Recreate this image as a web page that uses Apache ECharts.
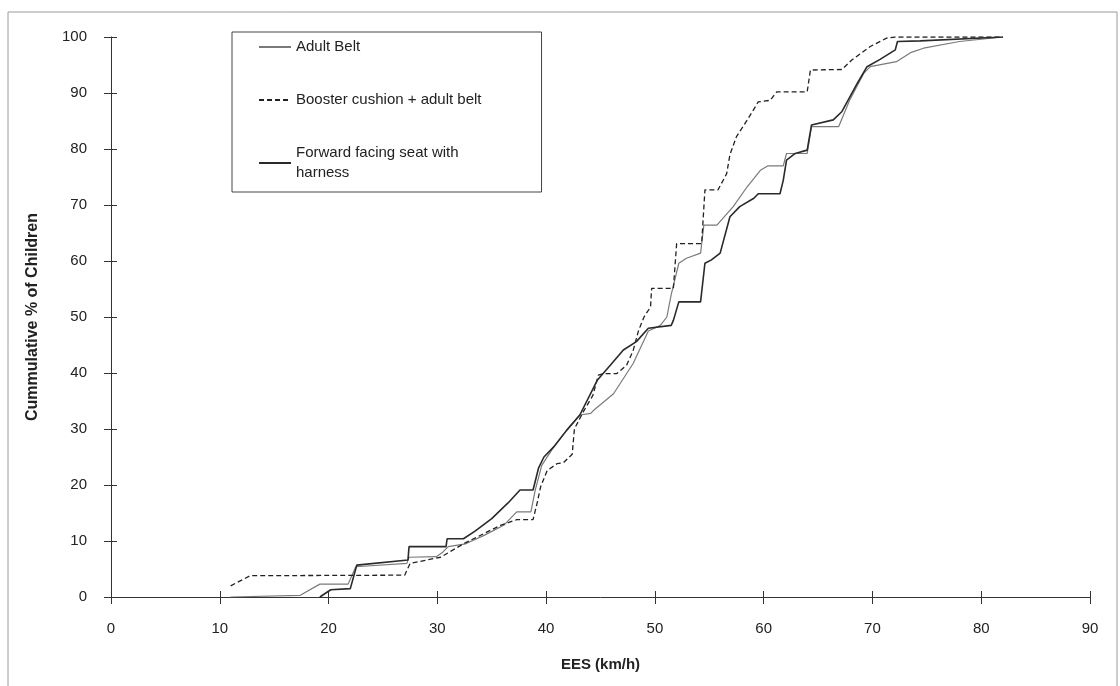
<!DOCTYPE html>
<html>
<head>
<meta charset="utf-8">
<script src="https://cdn.jsdelivr.net/npm/echarts@6/dist/echarts.min.js"></script>
<style>
  html, body { margin: 0; padding: 0; background: #fff; }
  #chart { width: 1120px; height: 686px; }
</style>
</head>
<body>
<div id="chart"></div>
<script>
// Adult Belt
var adultBeltEes = [11, 17.4, 19.2, 21.8, 22.5, 27.2, 27.4, 29.9, 30.5, 31.0, 32.6, 34.3, 36.1, 37.3, 38.6, 39.0, 39.6, 40.7, 41.9, 43.1, 44.1, 44.4, 46.2, 48.0, 49.4, 50.5, 51.1, 51.5, 52.2, 52.9, 54.2, 54.5, 55.7, 57.2, 58.5, 59.7, 60.4, 61.8, 62.1, 64.0, 64.4, 66.9, 67.9, 69.2, 69.8, 72.2, 73.5, 74.7, 78, 82];
var adultBeltPct = [0, 0.3, 2.3, 2.3, 5.4, 6.0, 7.1, 7.2, 8.0, 9.0, 9.5, 11.0, 12.8, 15.2, 15.2, 19.1, 23.5, 26.8, 29.8, 32.5, 32.8, 33.4, 36.3, 41.7, 47.5, 48.5, 50.0, 54, 59.6, 60.5, 61.4, 66.4, 66.4, 69.7, 73.3, 76.2, 77.0, 77.0, 79.2, 79.2, 84.0, 84.0, 88.7, 93.5, 94.7, 95.6, 97.2, 98.0, 99.2, 100];

// Booster cushion + adult belt
var boosterEes = [11, 12.8, 27.0, 27.5, 30.3, 32.4, 35.8, 37.3, 38.8, 39.2, 39.5, 40.1, 41.0, 41.6, 42.4, 42.6, 43.4, 44.3, 44.8, 45.3, 46.5, 47.4, 48.0, 48.5, 49.0, 49.6, 49.7, 51.7, 52.0, 54.3, 54.6, 55.8, 56.6, 56.9, 57.5, 58.5, 59.5, 60.6, 61.2, 64.0, 64.3, 67.2, 68.1, 69.8, 71.3, 72.1, 82];
var boosterPct = [2.0, 3.8, 3.9, 6.0, 7.1, 9.5, 12.8, 13.8, 13.8, 17.0, 19.7, 22.6, 23.8, 24.0, 25.5, 30.0, 33.0, 36.0, 39.6, 39.9, 39.9, 41.4, 44.0, 47.6, 50.0, 51.8, 55.1, 55.1, 63.1, 63.1, 72.7, 72.7, 75.6, 79.0, 82.2, 85.2, 88.4, 88.7, 90.2, 90.2, 94.1, 94.2, 95.9, 98.3, 99.8, 100, 100];

// Forward facing seat with harness
var forwardEes = [19.2, 20.2, 22.0, 22.6, 27.3, 27.4, 30.8, 30.9, 32.4, 33.5, 35.0, 36.5, 37.6, 38.8, 39.3, 39.8, 40.7, 41.9, 43.1, 44.7, 45.9, 47.1, 48.3, 49.4, 51.5, 51.7, 52.2, 54.2, 54.6, 55.2, 56.0, 56.9, 57.8, 59.1, 59.5, 61.5, 61.8, 62.1, 62.9, 64.0, 64.4, 66.4, 67.2, 68.6, 69.5, 70.7, 72.1, 72.3, 74.4, 82];
var forwardPct = [0, 1.3, 1.5, 5.7, 6.6, 9.0, 9.0, 10.4, 10.4, 11.8, 14.0, 16.8, 19.1, 19.1, 23.0, 25.0, 26.8, 29.8, 32.5, 38.7, 41.4, 44.1, 45.6, 48.0, 48.5, 49.4, 52.7, 52.7, 59.6, 60.2, 61.4, 67.9, 69.7, 71.2, 72.0, 72.0, 74.4, 78.0, 79.2, 79.8, 84.3, 85.2, 86.7, 91.7, 94.7, 96.0, 97.7, 99.2, 99.3, 100];

var seriesNames = ['Adult Belt', 'Booster cushion + adult belt', 'Forward facing seat with\nharness'];

function pairs(xs, ys) {
  var out = [];
  for (var i = 0; i < xs.length; i++) out.push([xs[i], ys[i]]);
  return out;
}

var font = 'Liberation Sans, Arial, sans-serif';
var chart = echarts.init(document.getElementById('chart'));

var xCommon = { type: 'value', min: 0, max: 90, interval: 10, gridIndex: 0 };
var yCommon = { type: 'value', min: 0, max: 100, interval: 10, gridIndex: 0 };

chart.setOption({
  animation: false,
  backgroundColor: '#fff',
  textStyle: { fontFamily: font },
  grid: { left: 111, right: 30, top: 37, bottom: 89 },
  graphic: [{
    type: 'rect',
    shape: { x: 8, y: 12, width: 1109, height: 700 },
    style: { fill: null, stroke: '#9a9a9a', lineWidth: 1 },
    silent: true
  }],
  legend: {
    left: 232,
    top: 32,
    orient: 'vertical',
    align: 'left',
    width: 306,
    itemWidth: 32,
    itemHeight: 12,
    itemGap: 33,
    padding: [5, 60, 9, 26],
    borderColor: '#444',
    borderWidth: 1,
    backgroundColor: '#fff',
    itemStyle: { opacity: 0 },
    textStyle: { fontFamily: font, fontSize: 15, color: '#222', lineHeight: 20 },
    data: seriesNames
  },
  xAxis: [
    Object.assign({}, xCommon, {
      name: 'EES (km/h)',
      nameLocation: 'middle',
      nameGap: 60,
      nameTextStyle: { fontFamily: font, fontSize: 15, fontWeight: 'bold', color: '#222' },
      axisLine: { onZero: false, lineStyle: { color: '#333', width: 1 } },
      axisTick: { show: true, length: 7, lineStyle: { color: '#333' } },
      axisLabel: { margin: 24, fontSize: 15, color: '#222', fontFamily: font },
      splitLine: { show: false }
    }),
    Object.assign({}, xCommon, {
      position: 'bottom',
      axisLine: { show: false },
      axisTick: { show: true, inside: true, length: 6, lineStyle: { color: '#333' } },
      axisLabel: { show: false },
      splitLine: { show: false }
    })
  ],
  yAxis: [
    Object.assign({}, yCommon, {
      name: 'Cummulative % of Children',
      nameLocation: 'middle',
      nameGap: 70,
      nameTextStyle: { fontFamily: font, fontSize: 16, fontWeight: 'bold', color: '#222' },
      axisLine: { show: true, onZero: false, lineStyle: { color: '#333', width: 1 } },
      axisTick: { show: true, length: 7, lineStyle: { color: '#333' } },
      axisLabel: { margin: 24, fontSize: 15, color: '#222', fontFamily: font },
      splitLine: { show: false }
    }),
    Object.assign({}, yCommon, {
      position: 'left',
      axisLine: { show: false },
      axisTick: { show: true, inside: true, length: 6, lineStyle: { color: '#333' } },
      axisLabel: { show: false },
      splitLine: { show: false }
    })
  ],
  series: [
    {
      name: seriesNames[0],
      type: 'line',
      symbol: 'none',
      data: pairs(adultBeltEes, adultBeltPct),
      lineStyle: { color: '#7a7a7a', width: 1.2 },
      itemStyle: { color: '#7a7a7a' },
      z: 2
    },
    {
      name: seriesNames[1],
      type: 'line',
      symbol: 'none',
      data: pairs(boosterEes, boosterPct),
      lineStyle: { color: '#222', width: 1.3, type: [5, 3] },
      itemStyle: { color: '#222' },
      z: 3
    },
    {
      name: seriesNames[2],
      type: 'line',
      symbol: 'none',
      data: pairs(forwardEes, forwardPct),
      lineStyle: { color: '#2a2a2a', width: 1.6 },
      itemStyle: { color: '#2a2a2a' },
      z: 4
    }
  ]
});
</script>
</body>
</html>
